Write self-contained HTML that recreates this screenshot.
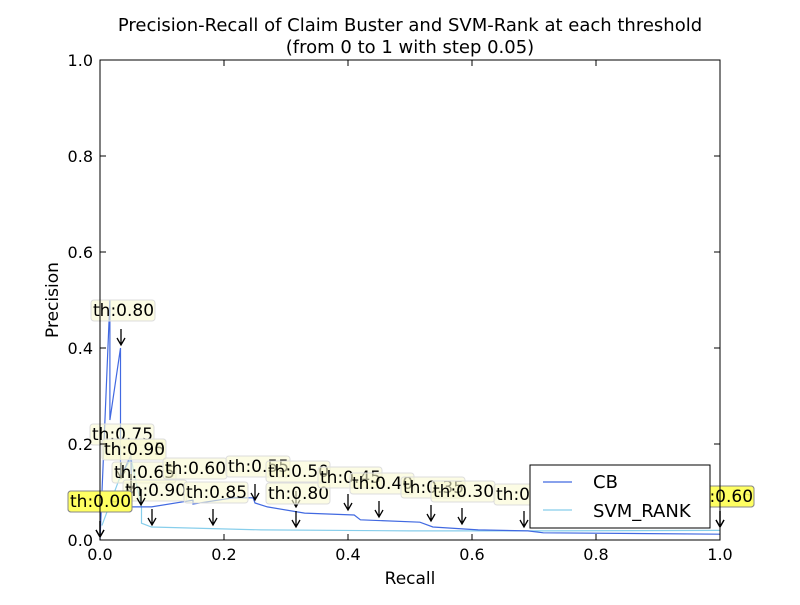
<!DOCTYPE html>
<html><head><meta charset="utf-8"><style>
body{margin:0;background:#fff;font-family:"Liberation Sans","DejaVu Sans",sans-serif}
svg text{font-family:"DejaVu Sans","Liberation Sans",sans-serif}
</style></head><body>
<svg id="c" width="800" height="600" xmlns="http://www.w3.org/2000/svg">
<rect width="800" height="600" fill="#fff"/>
<g id="plot"></g>
</svg>
<script>
const cbRecall=[0,0.016,0.016,0.033,0.033,0.05,0.051,0.065,0.083,0.15,0.15,0.215,0.247,0.25,0.27,0.33,0.41,0.42,0.516,0.537,0.61,0.69,0.715,1.0];
const cbPrec=[0,0.5,0.25,0.40,0.13,0.177,0.069,0.069,0.069,0.083,0.075,0.088,0.088,0.077,0.069,0.056,0.052,0.042,0.037,0.027,0.021,0.019,0.015,0.012];
const svmRecall=[0.003,0.032,0.05,0.067,0.067,0.083,0.26,0.5,0.7,1.0];
const svmPrec=[0.03,0.13,0.17,0.069,0.035,0.027,0.021,0.019,0.019,0.02];
const xTicks=[0,0.2,0.4,0.6,0.8,1.0];
const yTicks=[0,0.2,0.4,0.6,0.8,1.0];
const NS="http://www.w3.org/2000/svg";
const X0=100,X1=720,Y0=540,Y1=60;
const sx=v=>X0+v*(X1-X0), sy=v=>Y0-v*(Y0-Y1);
const svg=document.getElementById('c'), g=document.getElementById('plot');
function el(t,a,p){const e=document.createElementNS(NS,t);for(const k in a)e.setAttribute(k,a[k]);(p||g).appendChild(e);return e;}
function txt(x,y,s,a){const e=el('text',Object.assign({x:x,y:y},a));e.textContent=s;return e;}
let t=txt(410,31,'Precision-Recall of Claim Buster and SVM-Rank at each threshold',{'font-size':18,'text-anchor':'middle'});

t=txt(410,53,'(from 0 to 1 with step 0.05)',{'font-size':18,'text-anchor':'middle'});

function line(xs,ys,col,name){const d=xs.map((v,i)=>(i?'L':'M')+sx(v).toFixed(1)+' '+sy(ys[i]).toFixed(1)).join(' ');
 const p=el('path',{d:d,fill:'none',stroke:col,'stroke-width':1.2});
 }
line(svmRecall,svmPrec,'#87ceeb','svm-rank-line');
line(cbRecall,cbPrec,'#4169e1','cb-line');
const ann=[
['th:0.80',91,300,121,345,0],['th:0.75',90,424,121,478,0],['th:0.95',102,439,131,490,0],['th:0.90',102,439,131,490,0],
['th:0.65',112,462,131,495,0],['th:0.90',123,480,141,505,0],['th:0.60',163,458,152,525,0],['th:0.85',184,482,213,525,0],
['th:0.55',226,456,255,500,0],['th:0.50',266,461,296,507,0],['th:0.80',266,483,296,527,0],['th:0.45',318,467,348,510,0],
['th:0.40',350,473,379,517,0],['th:0.35',401,477,431,521,0],['th:0.30',431,481,462,524,0],['th:0.25',494,484,524,527,0],
['th:0.90',68,491,100,537,1],['th:0.00',68,491,100,537,1],['th:0.55',690,486,720,527,1],['th:0.60',690,486,720,527,1]];
ann.forEach(a=>{
 const grp=el('g',{});
 el('rect',{x:a[1],y:a[2],width:64,height:21,rx:3,fill:a[5]?'#ffff60':'#fafad2','fill-opacity':a[5]?0.9:0.6,stroke:a[5]?'#888':'#ddd','stroke-width':1},grp);
 const tt=el('text',{x:a[1]+2,y:a[2]+16,'font-size':17},grp);tt.textContent=a[0];
 el('path',{d:`M${a[3]} ${a[4]-16}L${a[3]} ${a[4]}M${a[3]-4} ${a[4]-7}L${a[3]} ${a[4]}L${a[3]+4} ${a[4]-7}`,stroke:'#000','stroke-width':1.3,fill:'none'},grp);
});
const fr=el('rect',{x:X0,y:Y1,width:X1-X0,height:Y0-Y1,fill:'none',stroke:'#000','stroke-width':1});

xTicks.forEach(v=>{const x=sx(v);el('path',{d:`M${x} ${Y0}v-6M${x} ${Y1}v6`,stroke:'#000'});
 const e=txt(x,560,v.toFixed(1),{'font-size':16,'text-anchor':'middle'});});
yTicks.forEach(v=>{const y=sy(v);el('path',{d:`M${X0} ${y}h6M${X1} ${y}h-6`,stroke:'#000'});
 const e=txt(93,y+6,v.toFixed(1),{'font-size':16,'text-anchor':'end'});});
t=txt(410,584,'Recall',{'font-size':17,'text-anchor':'middle'});
t=txt(58,300,'Precision',{'font-size':17,'text-anchor':'middle',transform:'rotate(-90 58 300)'});
const lg=el('g',{});
el('rect',{x:530,y:465,width:180,height:63,fill:'#fff',stroke:'#000'},lg);
el('line',{x1:543,y1:482,x2:572,y2:482,stroke:'#4169e1','stroke-width':1.2},lg);
let l=el('text',{x:593,y:488,'font-size':18},lg);l.textContent='CB';
el('line',{x1:543,y1:510,x2:572,y2:510,stroke:'#87ceeb','stroke-width':1.2},lg);
l=el('text',{x:593,y:517,'font-size':18},lg);l.textContent='SVM_RANK';
</script>
</body></html>
